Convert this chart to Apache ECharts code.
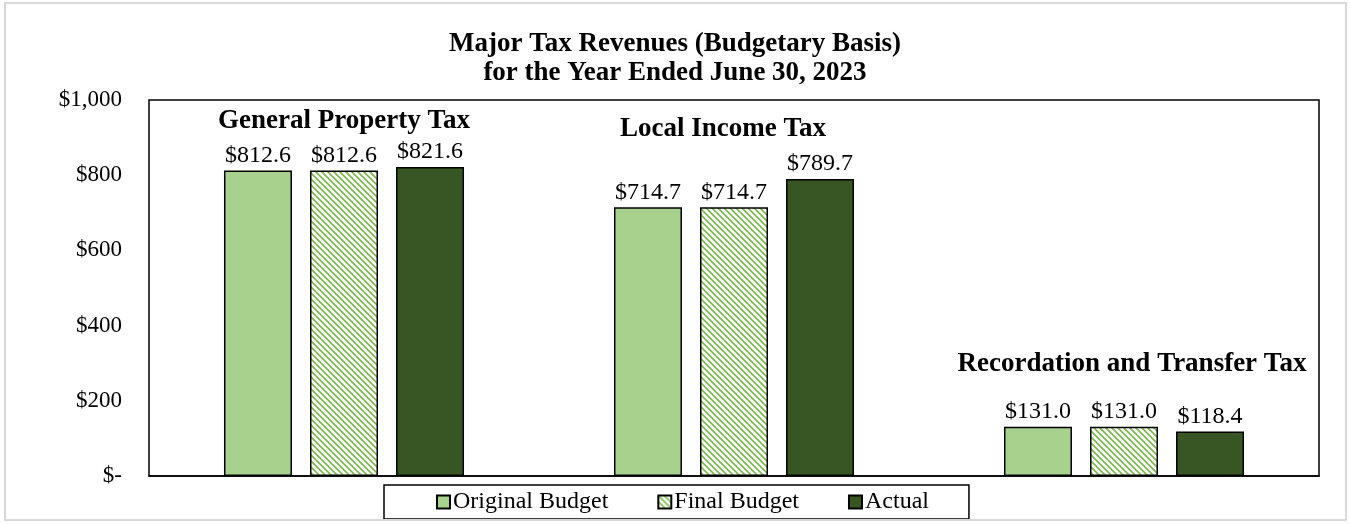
<!DOCTYPE html>
<html>
<head>
<meta charset="utf-8">
<script src="https://cdn.jsdelivr.net/npm/echarts@6/dist/echarts.min.js"></script>
<style>
  html, body { margin: 0; padding: 0; background: #fff; }
  #wrap { position: relative; width: 1350px; height: 524px; }
  #chart { position: absolute; left: 0; top: 0; width: 1350px; height: 524px; }
  #frame { position: absolute; left: 4px; top: 2px; width: 1339px; height: 515px;
           border: 2px solid #d9d9d9; pointer-events: none; }
</style>
</head>
<body>
<div id="wrap">
  <div id="chart"></div>
  <div id="frame"></div>
</div>
<script>
// Revenue figures in millions of dollars
const categories = ['General Property Tax', 'Local Income Tax', 'Recordation and Transfer Tax'];
const originalBudget = [812.6, 714.7, 131.0];
const finalBudget = [812.6, 714.7, 131.0];
const actual = [821.6, 789.7, 118.4];
// Heights (in axis units) where each category caption sits
const captionLevels = [944, 922, 298];
const captionShift = [0, -11, 8];
const yTicks = { min: 0, max: 1000, interval: 200 };

const FONT = '"Liberation Serif", "Times New Roman", serif';
const LIGHT = '#a9d18e';
const DARK = '#375623';

// Diagonal hatch fill for the final budget bars
function hatch() {
  const c = document.createElement('canvas');
  c.width = 6; c.height = 6;
  const g = c.getContext('2d');
  g.fillStyle = '#fff';
  g.fillRect(0, 0, 6, 6);
  g.strokeStyle = '#7cb84e';
  g.lineWidth = 1.6;
  g.beginPath();
  g.moveTo(-1, -1); g.lineTo(7, 7);
  g.moveTo(-1, 5); g.lineTo(1, 7);
  g.moveTo(5, -1); g.lineTo(7, 1);
  g.stroke();
  return { image: c, repeat: 'repeat' };
}

const valueLabel = {
  show: true,
  position: 'top',
  distance: 3,
  fontFamily: FONT,
  fontSize: 24,
  color: '#000',
  formatter: p => '$' + p.value.toFixed(1)
};

const barStyle = color => ({ color: color, borderColor: '#000', borderWidth: 1.5 });

const chart = echarts.init(document.getElementById('chart'), null, { renderer: 'canvas' });
chart.setOption({
  animation: false,
  backgroundColor: '#fff',
  title: {
    text: 'Major Tax Revenues (Budgetary Basis)\nfor the Year Ended June 30, 2023',
    left: 'center',
    top: 25,
    textStyle: { fontFamily: FONT, fontSize: 27, fontWeight: 'bold', color: '#000', lineHeight: 29 }
  },
  grid: {
    left: 149, right: 31, top: 100, bottom: 48,
    show: true, borderColor: '#000', borderWidth: 1.5
  },
  legend: {
    data: ['Original Budget', 'Final Budget', 'Actual'],
    bottom: 5,
    left: 384,
    icon: 'rect',
    itemWidth: 13,
    itemHeight: 13,
    itemGap: 49,
    padding: [5, 40, 5, 52],
    borderColor: '#000',
    borderWidth: 1.5,
    textStyle: { fontFamily: FONT, fontSize: 24, color: '#000', padding: [0, 0, 0, -2] }
  },
  xAxis: {
    type: 'category',
    data: categories,
    axisLine: { show: true, lineStyle: { color: '#000', width: 1.5 } },
    axisTick: { show: false },
    axisLabel: { show: false }
  },
  yAxis: {
    type: 'value',
    min: yTicks.min,
    max: yTicks.max,
    interval: yTicks.interval,
    splitLine: { show: false },
    axisLine: { show: false },
    axisTick: { show: false },
    axisLabel: {
      margin: 27,
      fontFamily: FONT,
      fontSize: 23,
      color: '#000',
      formatter: v => v === 0 ? '$-' : '$' + v.toLocaleString('en-US')
    }
  },
  series: [
    {
      name: 'Original Budget', type: 'bar', data: originalBudget,
      barWidth: 68, barGap: '26.5%',
      itemStyle: barStyle(LIGHT), label: valueLabel
    },
    {
      name: 'Final Budget', type: 'bar', data: finalBudget,
      barWidth: 68, barGap: '26.5%',
      itemStyle: barStyle(hatch()), label: valueLabel
    },
    {
      name: 'Actual', type: 'bar', data: actual,
      barWidth: 68, barGap: '26.5%',
      itemStyle: barStyle(DARK), label: valueLabel
    },
    {
      name: 'captions', type: 'scatter', symbolSize: 0, silent: true,
      itemStyle: { opacity: 1 },
      data: captionLevels.map((v, i) => ({
        value: v,
        label: { offset: [captionShift[i], 0] }
      })),
      label: {
        show: true,
        position: 'inside',
        fontFamily: FONT,
        fontSize: 27,
        fontWeight: 'bold',
        color: '#000',
        formatter: p => categories[p.dataIndex]
      }
    }
  ]
});
</script>
</body>
</html>
